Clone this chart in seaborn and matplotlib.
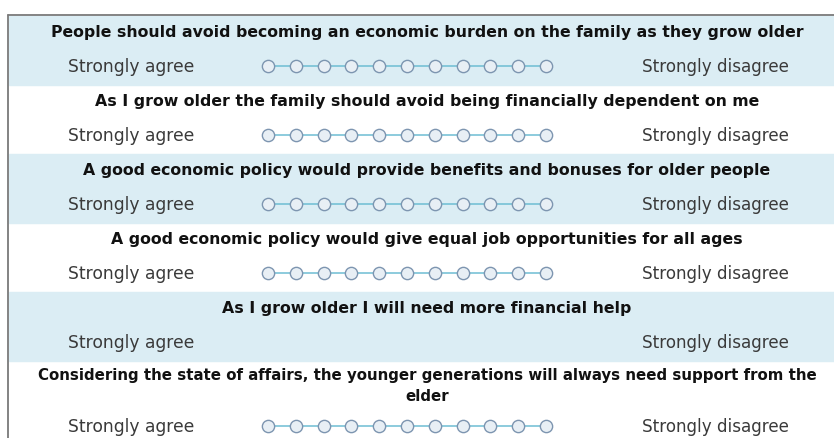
import numpy as np
import pandas as pd
import seaborn as sns
import matplotlib.pyplot as plt

# survey items, in order from top to bottom
questions = [
    "People should avoid becoming an economic burden on the family as they grow older",
    "As I grow older the family should avoid being financially dependent on me",
    "A good economic policy would provide benefits and bonuses for older people",
    "A good economic policy would give equal job opportunities for all ages",
    "As I grow older I will need more financial help",
    "Considering the state of affairs, the younger generations will always need support from the\nelder",
]
show_scale = [True, True, True, True, False, True]
scale_points = list(range(1, 12))
left_label = "Strongly agree"
right_label = "Strongly disagree"

sns.set_theme(style="white")
plt.rcParams['font.family'] = ['DejaVu Sans']

fig = plt.figure(figsize=(8.34, 4.39), dpi=100)
ax = fig.add_axes([0, 0, 1, 1])
ax.set_xlim(0, 834)
ax.set_ylim(439, 0)
ax.axis('off')

row_top = [17, 86, 155, 224, 293, 362]
row_bot = [86, 155, 224, 293, 362, 439]
title_y = [33, 102, 171, 240, 309, 386]
scale_y = [67, 136, 205, 274, 343, 427]
# the long wrapped item is set a bit smaller so it fits the width
title_size = [11.3, 11.3, 11.3, 11.3, 11.3, 10.85]

# alternating bands
for i in range(len(questions)):
    if i % 2 == 0:
        ax.axhspan(row_top[i], row_bot[i], xmin=9 / 834, xmax=1, color='#dbedf4', zorder=0)

# frame lines top + left
ax.plot([8, 834], [16, 16], color='#7a7a7a', lw=1.3, zorder=3)
ax.plot([8, 8], [16, 439], color='#7a7a7a', lw=1.3, zorder=3)

# scale points
rows = []
for i, q in enumerate(questions):
    if not show_scale[i]:
        continue
    for p in scale_points:
        rows.append({'q': i, 'point': p, 'x': 268 + (p - 1) * 27.8, 'y': scale_y[i]})
pts = pd.DataFrame(rows)

sns.lineplot(data=pts, x='x', y='y', units='q', estimator=None, color='#6dbdd3',
             lw=1.1, ax=ax, zorder=2, legend=False)
sns.scatterplot(data=pts, x='x', y='y', marker='o', s=78, color='#e8eff5',
                edgecolor='#7d95b0', linewidth=1.0, ax=ax, zorder=4, legend=False)
ax.set_xlabel('')
ax.set_ylabel('')
ax.set_xlim(0, 834)
ax.set_ylim(439, 0)

for i, q in enumerate(questions):
    ax.text(427, title_y[i], q, ha='center', va='center', fontsize=title_size[i],
            fontweight='bold', color='#111111', linespacing=1.55)
    ax.text(131, scale_y[i], left_label, ha='center', va='center', fontsize=12.3,
            color='#3a3a3a')
    ax.text(715, scale_y[i], right_label, ha='center', va='center', fontsize=12.1,
            color='#3a3a3a')

fig.savefig('out.png', dpi=100)
